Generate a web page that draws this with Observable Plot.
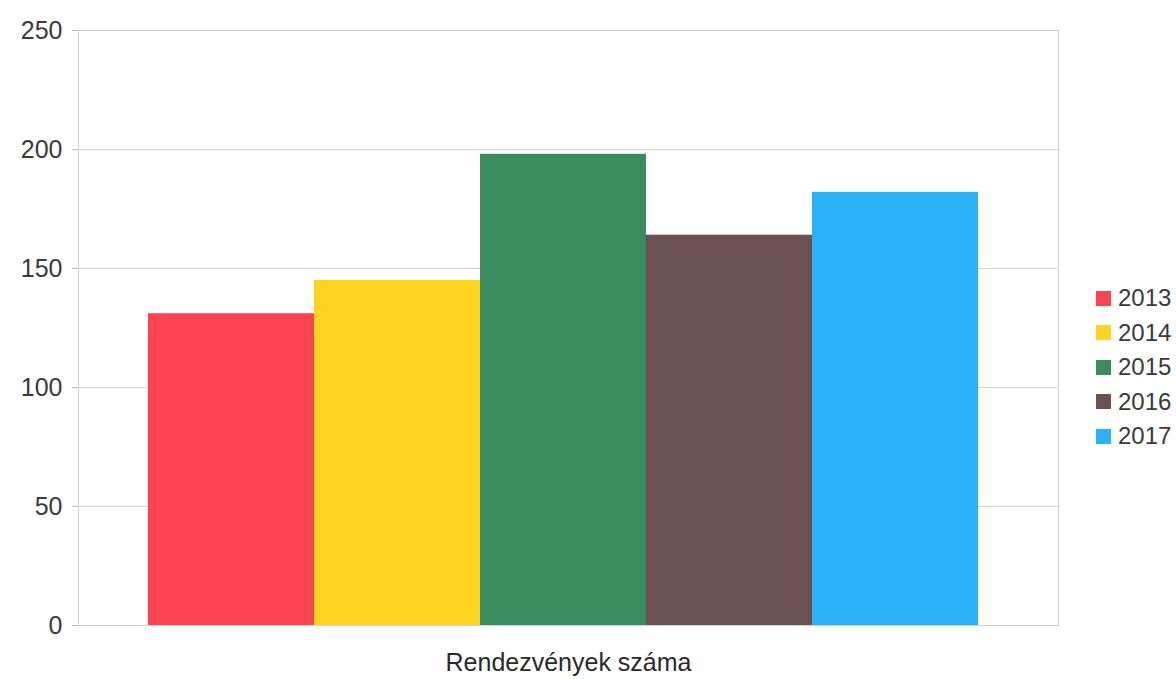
<!DOCTYPE html>
<html>
<head>
<meta charset="utf-8">
<script src="https://cdn.jsdelivr.net/npm/d3@7"></script>
<script src="https://cdn.jsdelivr.net/npm/@observablehq/plot@0.6"></script>
<style>
  html, body { margin: 0; padding: 0; background: #fff; }
  #wrap { position: relative; width: 1176px; height: 679px; font-family: "Liberation Sans", Arial, sans-serif; }
  #legend { position: absolute; left: 1096px; top: 281px; }
  .item { display: flex; align-items: center; height: 34.5px; font-size: 24px; color: #3a3a3a; }
  .sw { width: 15px; height: 15px; margin-right: 7px; }
</style>
</head>
<body>
<div id="wrap"></div>
<script>
const years = ["2013", "2014", "2015", "2016", "2017"];
const values = [131, 145, 198, 164, 182];
const colors = ["#fb4352", "#fdd521", "#3a8c5e", "#6c5153", "#2ab1f7"];
const yTicks = [0, 50, 100, 150, 200, 250];
const xLabel = "Rendezvények száma";

const data = years.map((y, i) => ({year: y, value: values[i]}));

const chart = Plot.plot({
  width: 1176,
  height: 679,
  marginLeft: 78,
  marginRight: 118,
  marginTop: 30,
  marginBottom: 54,
  style: {fontFamily: "Liberation Sans, Arial, sans-serif", fontSize: "25px", color: "#3a3a3a", background: "#fff"},
  x: {domain: years, range: [148, 978], padding: 0, axis: null},
  y: {domain: [0, 250], ticks: yTicks},
  color: {domain: years, range: colors},
  marks: [
    Plot.gridY(yTicks, {stroke: "#d6d6d6", strokeOpacity: 1}),
    Plot.frame({stroke: "#d0d0d0"}),
    Plot.axisY(yTicks, {tickSize: 6, tickPadding: 10, stroke: "#bbb", fill: "#3a3a3a", label: null, fontSize: 25}),
    Plot.barY(data, {x: "year", y: "value", fill: "year"}),
    Plot.text([xLabel], {frameAnchor: "bottom", dy: 45, fontSize: 25, fill: "#2a2a2a", text: d => d})
  ]
});
const wrap = document.getElementById("wrap");
wrap.appendChild(chart);

const legend = document.createElement("div");
legend.id = "legend";
years.forEach((y, i) => {
  const it = document.createElement("div");
  it.className = "item";
  const sw = document.createElement("span");
  sw.className = "sw";
  sw.style.background = colors[i];
  const t = document.createElement("span");
  t.textContent = y;
  it.appendChild(sw); it.appendChild(t);
  legend.appendChild(it);
});
wrap.appendChild(legend);
</script>
</body>
</html>
